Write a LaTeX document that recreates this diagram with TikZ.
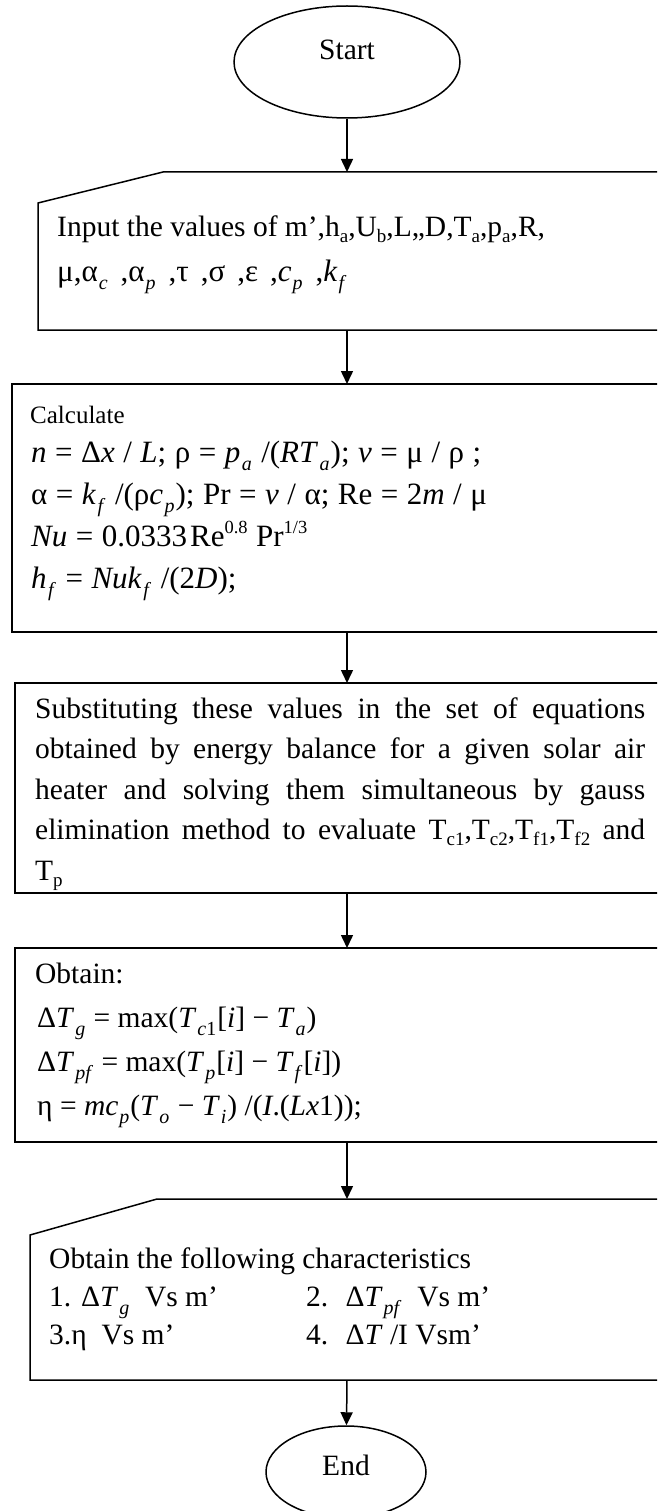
\documentclass[tikz,border=0pt]{standalone}
\usepackage{fontspec}
\setmainfont{Liberation Serif}
\usetikzlibrary{arrows.meta,shapes.geometric}
\newcommand{\dnx}[1]{\raisebox{-6pt}{\fontsize{19}{19}\selectfont #1}}
\newcommand{\dnm}[1]{\kern1pt\raisebox{-8pt}{\fontsize{20}{20}\selectfont #1}\kern1pt\relax}
\newcommand{\dnM}[1]{\kern1.5pt\raisebox{-8.5pt}{\fontsize{20}{20}\selectfont #1}\kern1pt\relax}
\newcommand{\upx}[1]{\raisebox{12.5pt}{\fontsize{18.5}{18.5}\selectfont #1}}
\newcommand{\mi}[1]{\textit{#1}}
\newcommand{\widesp}{\spaceskip=8.5pt plus 1pt\relax}
\newcommand{\widerSp}{\spaceskip=12pt plus 1pt\relax}
\tikzset{
  ln/.style={line width=1.5pt},
  arr/.style={line width=1.5pt,-{Triangle[length=13pt,width=12pt]}},
  txt/.style={anchor=base west,inner sep=0pt,font=\fontsize{29.5}{34}\selectfont},
  mth/.style={anchor=base west,inner sep=0pt,font=\fontsize{31}{36}\selectfont\widesp},
  small/.style={anchor=base west,inner sep=0pt,font=\fontsize{25}{30}\selectfont},
  oval/.style={ellipse,draw,line width=1.5pt,inner sep=0pt},
}
\begin{document}
\begin{tikzpicture}[x=1pt,y=-1pt]
\useasboundingbox (0,0) rectangle (657,1511);
\clip (0,0) rectangle (657,1511);
\fill[white] (0,0) rectangle (657,1511);

% Start
\node[oval,minimum width=226pt,minimum height=112pt] (start) at (347,62) {};
\node[inner sep=0pt,font=\fontsize{29.5}{34}\selectfont] (startlbl) at (347,50) {Start};

% Input box
\draw[ln] (163,172) -- (720,172) -- (720,330) -- (38,330) -- (38,203) -- cycle;
\coordinate (inT) at (347,172);
\coordinate (inB) at (347,330);
\node[txt] (in1) at (57,237) {Input the values of m’,h\dnx{a},U\dnx{b},L,,D,T\dnx{a},p\dnx{a},R,};
\node[txt,font=\fontsize{31}{36}\selectfont\widerSp] (in2) at (57,282) {μ,α\dnm{\mi{c}} ,α\dnm{\mi{p}} ,τ ,σ ,ε ,\mi{c}\dnm{\mi{p}} ,\mi{k}\dnm{\mi{f}}};

% Calculate box
\draw[ln] (12,384) rectangle (720,632);
\coordinate (caT) at (347,384);
\coordinate (caB) at (347,632);
\node[small] (ca0) at (30,423) {Calculate};
\node[mth] (ca1) at (31,462) {\mi{n} = Δ\mi{x} / \mi{L}; ρ = \mi{p}\dnM{\mi{a}} /(\mi{RT}\dnM{\mi{a}}); \mi{v} = μ / ρ ;};
\node[mth] (ca2) at (31,504) {α = \mi{k}\dnM{\mi{f}} /(ρ\mi{c}\dnM{\mi{p}}); Pr = \mi{v} / α; Re = 2\mi{m} / μ};
\node[mth] (ca3) at (31,546) {\mi{Nu} = 0.0333\kern3pt Re\upx{0.8} Pr\upx{1/3}};
\node[mth] (ca4) at (31,588) {\mi{h}\dnM{\mi{f}} = \mi{Nuk}\dnM{\mi{f}} /(2\mi{D});};

% Substituting box
\draw[ln] (15,683) rectangle (720,893);
\coordinate (suT) at (347,683);
\coordinate (suB) at (347,893);
\node[txt] (su1) at (35,718) {\makebox[610pt][s]{Substituting these values in the set of equations}};
\node[txt] (su2) at (35,758) {\makebox[610pt][s]{obtained by energy balance for a given solar air}};
\node[txt] (su3) at (35,799) {\makebox[610pt][s]{heater and solving them simultaneous by gauss}};
\node[txt] (su4) at (35,839) {\makebox[610pt][s]{elimination method to evaluate T\dnx{c1},T\dnx{c2},T\dnx{f1},T\dnx{f2} and}};
\node[txt] (su5) at (35,880) {T\dnx{p}};

% Obtain box
\draw[ln] (15,948) rectangle (720,1142);
\coordinate (obT) at (347,948);
\coordinate (obB) at (347,1142);
\node[txt] (ob0) at (35,983) {Obtain:};
\node[txt] (ob1) at (37,1027) {Δ\mi{T}\dnm{\mi{g}} = max(\mi{T}\dnm{\mi{c}1}[\mi{i}] − \mi{T}\dnm{\mi{a}})};
\node[txt] (ob2) at (37,1071) {Δ\mi{T}\dnm{\mi{pf}} = max(\mi{T}\dnm{\mi{p}}[\mi{i}] − \mi{T}\dnm{\mi{f}}[\mi{i}])};
\node[txt] (ob3) at (37,1115) {η = \mi{mc}\dnm{\mi{p}}(\mi{T}\dnm{\mi{o}} − \mi{T}\dnm{\mi{i}}) /(\mi{I}.(\mi{Lx}1));};

% Final output box
\draw[ln] (157,1199) -- (720,1199) -- (720,1380) -- (30,1380) -- (30,1235) -- cycle;
\coordinate (fiT) at (347,1199);
\coordinate (fiB) at (347,1380);
\node[txt] (fi0) at (49,1268) {Obtain the following characteristics};
\node[txt] (fi1) at (49,1306) {1. Δ\mi{T}\dnm{\mi{g}} \ Vs m’};
\node[txt] (fi2) at (306,1306) {2. \ Δ\mi{T}\dnm{\mi{pf}} \ Vs m’};
\node[txt] (fi3) at (49,1344) {3.η \ Vs m’};
\node[txt] (fi4) at (306,1344) {4. \ Δ\mi{T} /I Vsm’};

% End
\node[oval,minimum width=160pt,minimum height=92pt] (endo) at (346,1472) {};
\node[inner sep=0pt,font=\fontsize{29.5}{34}\selectfont] (endlbl) at (346,1465) {End};

% Connectors
\draw[arr] (start) -- (inT);
\draw[arr] (inB) -- (caT);
\draw[arr] (caB) -- (suT);
\draw[arr] (suB) -- (obT);
\draw[arr] (obB) -- (fiT);
\draw[arr] (fiB) -- (endo);
\end{tikzpicture}
\end{document}
